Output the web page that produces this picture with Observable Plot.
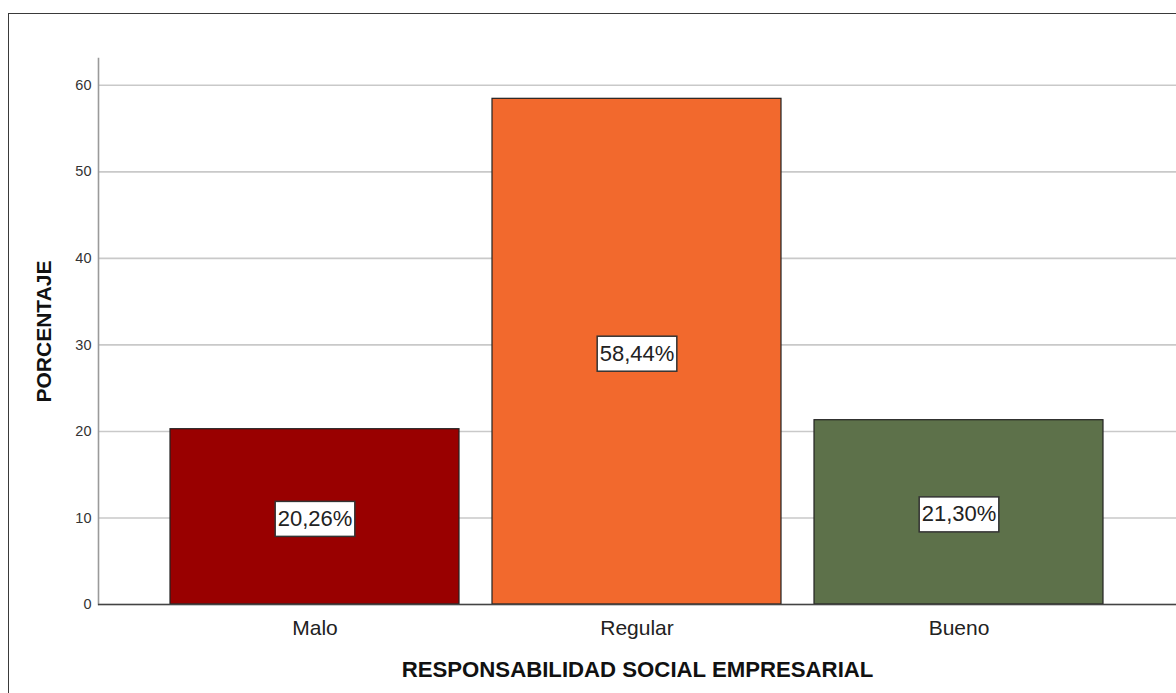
<!DOCTYPE html>
<html>
<head>
<meta charset="utf-8">
<script src="https://cdn.jsdelivr.net/npm/d3@7"></script>
<script src="https://cdn.jsdelivr.net/npm/@observablehq/plot@0.6"></script>
<style>
  html, body { margin: 0; padding: 0; background: #fff; overflow: hidden; }
  #wrap { position: relative; width: 1176px; height: 693px; }
  #border {
    position: absolute; left: 8px; top: 13px; right: -10px; bottom: -10px;
    border-left: 1.5px solid #3a3a3a; border-top: 1.5px solid #3a3a3a;
    pointer-events: none;
  }
  #wrap svg { position: absolute; left: 0; top: 0; }
</style>
</head>
<body>
<div id="wrap"><div id="border"></div></div>
<script>
// Niveles de responsabilidad social empresarial y su porcentaje
const categories = ["Malo", "Regular", "Bueno"];
const percentages = [20.26, 58.44, 21.30];
const yTicks = [0, 10, 20, 30, 40, 50, 60];
const barColors = ["#990000", "#F2692D", "#5D714A"];
const xTitle = "RESPONSABILIDAD SOCIAL EMPRESARIAL";
const yTitle = "PORCENTAJE";

const rows = categories.map((c, i) => ({ category: c, value: percentages[i] }));
const fmt = v => v.toFixed(2).replace(".", ",") + "%";
const font = "'Liberation Sans', Arial, sans-serif";

const chart = Plot.plot({
  width: 1176,
  height: 693,
  marginLeft: 98,
  marginRight: 0,
  marginTop: 58,
  marginBottom: 89,
  style: { fontFamily: font, background: "transparent", overflow: "visible" },
  x: { domain: categories, paddingInner: 0.102, paddingOuter: 0.22, label: null },
  y: { domain: [0, 63.1], label: null },
  color: { domain: categories, range: barColors },
  marks: [
    Plot.gridY(yTicks, { stroke: "#c9c9c9", strokeOpacity: 1, strokeWidth: 1.6 }),
    Plot.frame({ anchor: "left", stroke: "#9a9a9a", strokeWidth: 1.6 }),
    Plot.barY(rows, { x: "category", y: "value", fill: "category", stroke: "#222", strokeWidth: 1.2 }),
    Plot.ruleY([0], { stroke: "#444", strokeWidth: 1.4 }),
    Plot.axisY({ ticks: yTicks, tickSize: 0, tickPadding: 7, fontSize: 14.5, color: "#333", label: null }),
    Plot.axisX({ tickSize: 0, tickPadding: 16, fontSize: 21, color: "#222", label: null }),
    Plot.text(rows, {
      x: "category", y: d => d.value / 2, text: d => fmt(d.value),
      dy: 2, fontSize: 22, fill: "#222"
    }),
    Plot.text([xTitle], {
      frameAnchor: "bottom", dy: 72, fontSize: 22.2, fontWeight: "bold", fill: "#111"
    }),
    Plot.text([yTitle], {
      frameAnchor: "left", textAnchor: "middle", dx: -54, rotate: -90, fontSize: 21,
      fontWeight: "bold", fill: "#111", letterSpacing: "0.7px"
    })
  ]
});

document.getElementById("wrap").prepend(chart);

// white boxes with a dark outline behind each percentage label
chart.querySelectorAll("text").forEach(t => {
  if (!/%$/.test(t.textContent) || t.closest('g[aria-label="y-axis tick label"]')) return;
  const b = t.getBBox();
  const r = document.createElementNS("http://www.w3.org/2000/svg", "rect");
  const padX = 2.5, padY = 6;
  r.setAttribute("x", b.x - padX);
  r.setAttribute("y", b.y - padY + 1.5);
  r.setAttribute("width", b.width + 2 * padX);
  r.setAttribute("height", b.height + 2 * padY - 2);
  r.setAttribute("fill", "#fff");
  r.setAttribute("stroke", "#333");
  r.setAttribute("stroke-width", "1.5");
  if (t.getAttribute("transform")) r.setAttribute("transform", t.getAttribute("transform"));
  t.parentNode.insertBefore(r, t);
});
</script>
</body>
</html>
